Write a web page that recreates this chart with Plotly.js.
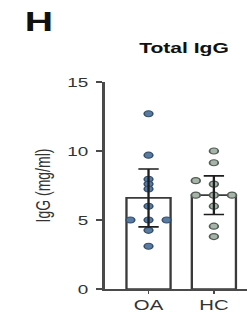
<!DOCTYPE html>
<html>
<head>
<meta charset="utf-8">
<script src="https://cdn.plot.ly/plotly-3.0.1.min.js"></script>
<style>
  html, body { margin: 0; padding: 0; background: #fff; overflow: hidden; }
  #wrap { width: 247px; height: 315px; overflow: hidden; }
  #chart { width: 170px; height: 315px; transform: scaleX(1.453); transform-origin: 0 0; }
</style>
</head>
<body>
<div id="wrap"><div id="chart"></div></div>
<script>
// ---- data ----
const categories = ['OA', 'HC'];
const means = [6.6, 6.8];
const errors = [2.1, 1.4];
const oaValues = [12.7, 9.7, 7.95, 7.6, 7.25, 6.0, 5.0, 5.0, 5.0, 4.25, 3.1];
const hcValues = [10.0, 9.15, 7.85, 7.6, 6.8, 6.8, 6.8, 6.0, 4.55, 3.8];
const yTicks = [0, 5, 10, 15];

// simple deterministic swarm: spread ties sideways
function swarm(vals, step, thr) {
  const order = vals.map((v, i) => i).sort((a, b) => vals[a] - vals[b]);
  const placed = [];
  const offs = new Array(vals.length).fill(0);
  order.forEach(i => {
    const v = vals[i];
    const cands = [0, -1, 1, -2, 2, -3, 3];
    for (const c of cands) {
      const off = c * step;
      const clash = placed.some(p => Math.abs(p.v - v) < thr && Math.abs(p.off - off) < step * 0.9);
      if (!clash) { offs[i] = off; placed.push({v, off}); break; }
    }
  });
  return offs;
}

const step = 0.277, thr = 0.3;
const oaOff = swarm(oaValues, step, thr);
const hcOff = swarm(hcValues, step, thr);

const traces = [
  {
    type: 'bar', x: [0, 1], y: means, width: 0.675,
    marker: { color: '#ffffff', line: { color: '#3a3a3a', width: 1.6 } },
    hoverinfo: 'skip', showlegend: false
  },
  {
    type: 'scatter', mode: 'markers',
    x: oaValues.map((v, i) => 0 + oaOff[i]), y: oaValues,
    marker: { size: 6, color: '#5a7aa0', line: { color: '#34506f', width: 1.1 } },
    showlegend: false
  },
  {
    type: 'scatter', mode: 'markers',
    x: hcValues.map((v, i) => 1 + hcOff[i]), y: hcValues,
    marker: { size: 6, color: '#a8b4aa', line: { color: '#4f5d53', width: 1.2 } },
    showlegend: false
  },
  {
    type: 'scatter', mode: 'markers', x: [0, 1], y: means,
    marker: { size: 1, opacity: 0 },
    error_y: { type: 'data', array: errors, visible: true, color: '#1e1e1e', thickness: 1.6, width: 7 },
    hoverinfo: 'skip', showlegend: false
  }
];

const fontFam = 'Arial, "Liberation Sans", sans-serif';

const layout = {
  width: 170, height: 315,
  margin: { l: 72, r: 0, t: 82, b: 26, pad: 0 },
  paper_bgcolor: '#ffffff', plot_bgcolor: '#ffffff',
  showlegend: false,
  title: {
    text: '<b>Total IgG</b>', font: { family: fontFam, size: 14.5, color: '#111' },
    xref: 'container', yref: 'container', x: 0.745, xanchor: 'center', y: 0.849, yanchor: 'middle'
  },
  xaxis: {
    range: [-0.672, 1.507], tickvals: [0, 1], ticktext: categories,
    showgrid: false, zeroline: false, showline: true, linecolor: '#4a4a4a', linewidth: 1.6,
    ticks: 'outside', ticklen: 3, tickwidth: 1.2, tickcolor: '#4a4a4a',
    tickfont: { family: fontFam, size: 14, color: '#333' }, fixedrange: true
  },
  yaxis: {
    range: [0, 15], tickvals: yTicks, ticktext: yTicks.map(String),
    showgrid: false, zeroline: false, showline: true, linecolor: '#4a4a4a', linewidth: 1.6,
    ticks: 'outside', ticklen: 4, tickwidth: 1.2, tickcolor: '#4a4a4a',
    ticklabelstandoff: 3,
    tickfont: { family: fontFam, size: 13, color: '#333' },
    title: { text: 'IgG (mg/ml)', font: { family: fontFam, size: 14, color: '#333' }, standoff: 8 },
    fixedrange: true
  },
  annotations: [
    {
      text: '<b>H</b>', xref: 'paper', yref: 'paper', x: -0.456, y: 1.289,
      xanchor: 'center', yanchor: 'middle', showarrow: false,
      font: { family: fontFam, size: 27, color: '#111' }
    }
  ]
};

Plotly.newPlot('chart', traces, layout, { displayModeBar: false, staticPlot: true });
</script>
</body>
</html>
